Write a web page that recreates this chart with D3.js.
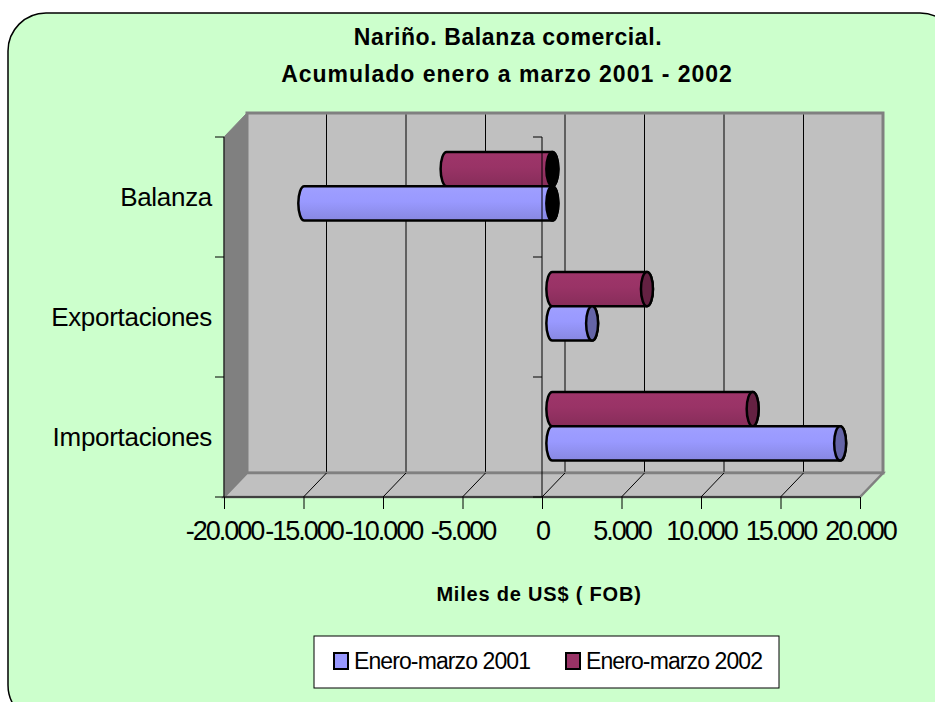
<!DOCTYPE html>
<html>
<head>
<meta charset="utf-8">
<script src="https://cdn.jsdelivr.net/npm/d3@7"></script>
<style>
  body { margin: 0; background: #ffffff; }
  svg { display: block; font-family: "Liberation Sans", Arial, sans-serif; }
</style>
</head>
<body>
<div id="chart"></div>
<script>
// data
var categories = ["Balanza", "Exportaciones", "Importaciones"];   // top to bottom
var seriesNames = ["Enero-marzo 2001", "Enero-marzo 2002"];
var values2001 = [-15600, 2500, 18100];
var values2002 = [-6650, 5950, 12600];
var xTicks = [-20000, -15000, -10000, -5000, 0, 5000, 10000, 15000, 20000];
var seriesColors = ["#9999ff", "#993366"];

var width = 935, height = 702;

var svg = d3.select("#chart")
  .append("svg")
    .attr("width", width)
    .attr("height", height);

// chart area frame
svg.append("rect")
  .attr("x", 8).attr("y", 13)
  .attr("width", 950).attr("height", 710)
  .attr("rx", 38).attr("ry", 38)
  .attr("fill", "#ccffcc")
  .attr("stroke", "#000")
  .attr("stroke-width", 1.5);

// title
var title = svg.append("text")
  .attr("text-anchor", "middle")
  .style("font-weight", "bold")
  .style("font-size", "23px");
title.append("tspan").attr("x", 508).attr("y", 45)
  .style("letter-spacing", "0.6px")
  .text("Nariño. Balanza comercial.");
title.append("tspan").attr("x", 507).attr("y", 82)
  .style("letter-spacing", "1px")
  .text("Acumulado enero a marzo 2001 - 2002");

// 3d plot geometry
var depth = {x: 23, y: -24};
var x = d3.scaleLinear().domain([-20000, 20000]).range([224, 860]);
var y = d3.scaleBand().domain(categories).range([137, 497]);
var ySub = d3.scaleBand().domain(["2002", "2001"]).range([0, y.bandwidth()])
  .paddingInner(0).paddingOuter(0.75);

var x0 = x.range()[0], x1 = x.range()[1];
var yTop = y.range()[0], yBot = y.range()[1];

// back wall
svg.append("rect")
  .attr("x", x0 + depth.x).attr("y", yTop + depth.y)
  .attr("width", x1 - x0).attr("height", yBot - yTop)
  .attr("fill", "#c0c0c0")
  .attr("stroke", "#808080")
  .attr("stroke-width", 3);

// gridlines on back wall
svg.append("g")
  .selectAll("line")
  .data(xTicks.slice(1, -1))
  .enter()
  .append("line")
    .attr("x1", function(d) { return x(d) + depth.x; })
    .attr("x2", function(d) { return x(d) + depth.x; })
    .attr("y1", yTop + depth.y + 1.5)
    .attr("y2", yBot + depth.y)
    .attr("stroke", "#000")
    .attr("stroke-width", 1);

// left wall
svg.append("path")
  .attr("d", "M" + x0 + "," + yTop + "L" + (x0 + depth.x) + "," + (yTop + depth.y) +
             "L" + (x0 + depth.x) + "," + (yBot + depth.y) + "L" + x0 + "," + yBot + "Z")
  .attr("fill", "#808080")
  .attr("stroke", "#808080");

// floor
svg.append("path")
  .attr("d", "M" + x0 + "," + yBot + "L" + x1 + "," + yBot +
             "L" + (x1 + depth.x) + "," + (yBot + depth.y) + "L" + (x0 + depth.x) + "," + (yBot + depth.y) + "Z")
  .attr("fill", "#c0c0c0")
  .attr("stroke", "#808080")
  .attr("stroke-width", 2.5);

svg.append("g")
  .selectAll("line")
  .data(xTicks.slice(1, -1))
  .enter()
  .append("line")
    .attr("x1", function(d) { return x(d); })
    .attr("x2", function(d) { return x(d) + depth.x; })
    .attr("y1", yBot)
    .attr("y2", yBot + depth.y)
    .attr("stroke", "#000")
    .attr("stroke-width", 1);

// gradients for the cylinders
var defs = svg.append("defs");
seriesColors.forEach(function(c, i) {
  var g = defs.append("linearGradient")
    .attr("id", "grad" + i)
    .attr("x1", 0).attr("y1", 0).attr("x2", 0).attr("y2", 1);
  g.append("stop").attr("offset", "0%").attr("stop-color", d3.color(c).brighter(0.1));
  g.append("stop").attr("offset", "45%").attr("stop-color", c);
  g.append("stop").attr("offset", "100%").attr("stop-color", d3.color(c).darker(0.35));
});

// bars (cylinders) at mid depth
var shift = {x: depth.x * 0.45, y: depth.y * 0.45};
var capRx = 6;
var bars = [];
categories.forEach(function(cat, i) {
  bars.push({cat: cat, key: "2002", s: 1, v: values2002[i]});
  bars.push({cat: cat, key: "2001", s: 0, v: values2001[i]});
});

function cylinder(d) {
  var h = ySub.bandwidth();
  var top = y(d.cat) + ySub(d.key) + shift.y;
  var a = Math.min(x(0), x(d.v)) + shift.x;
  var b = Math.max(x(0), x(d.v)) + shift.x;
  return "M" + b + "," + top +
    "L" + a + "," + top +
    "A" + capRx + "," + (h / 2) + " 0 0 0 " + a + "," + (top + h) +
    "L" + b + "," + (top + h) +
    "A" + capRx + "," + (h / 2) + " 0 0 0 " + b + "," + top + "Z";
}

var barG = svg.append("g")
  .selectAll("g")
  .data(bars)
  .enter()
  .append("g");

barG.append("path")
  .attr("d", cylinder)
  .attr("fill", function(d) { return "url(#grad" + d.s + ")"; })
  .attr("stroke", "#000")
  .attr("stroke-width", 2.5)
  .attr("stroke-linejoin", "round");

barG.append("ellipse")
  .attr("cx", function(d) { return Math.max(x(0), x(d.v)) + shift.x; })
  .attr("cy", function(d) { return y(d.cat) + ySub(d.key) + shift.y + ySub.bandwidth() / 2; })
  .attr("rx", capRx)
  .attr("ry", ySub.bandwidth() / 2)
  .attr("fill", function(d) { return d.v < 0 ? "#000" : d3.color(seriesColors[d.s]).darker(1.2); })
  .attr("stroke", "#000")
  .attr("stroke-width", 2.5);

// category axes (left edge and at zero)
[x0, x(0)].forEach(function(ax) {
  svg.append("line")
    .attr("x1", ax).attr("x2", ax)
    .attr("y1", yTop).attr("y2", yBot)
    .attr("stroke", "#000").attr("stroke-width", 1);
  svg.append("g")
    .selectAll("line")
    .data([yTop, yTop + y.step(), yTop + 2 * y.step(), yBot])
    .enter()
    .append("line")
      .attr("x1", ax - 9).attr("x2", ax)
      .attr("y1", function(d) { return d; })
      .attr("y2", function(d) { return d; })
      .attr("stroke", "#000").attr("stroke-width", 1);
});

// category labels
svg.append("g")
  .selectAll("text")
  .data(categories)
  .enter()
  .append("text")
    .attr("x", 212)
    .attr("y", function(d) { return y(d) + y.bandwidth() / 2; })
    .attr("dy", "0.35em")
    .attr("text-anchor", "end")
    .style("font-size", "26px")
    .style("letter-spacing", "-0.3px")
    .text(function(d) { return d; });

// value axis
var xAxis = d3.axisBottom(x)
  .tickValues(xTicks)
  .tickSize(12)
  .tickFormat(function(d) { return d3.format(",")(d).replace(/,/g, ".").replace("\u2212", "-"); });

var axG = svg.append("g")
  .attr("transform", "translate(0," + yBot + ")")
  .call(xAxis);
axG.select(".domain").attr("stroke", "#000").attr("d", "M" + x0 + ",0H" + x1);
axG.selectAll(".tick line").attr("stroke", "#000");
axG.selectAll(".tick text")
  .attr("y", 24)
  .attr("dy", "0.71em")
  .attr("fill", "#000")
  .style("font-family", "'Liberation Sans', Arial, sans-serif")
  .style("font-size", "27px")
  .style("letter-spacing", "-2px");

// axis title
svg.append("text")
  .attr("x", 539)
  .attr("y", 601)
  .attr("text-anchor", "middle")
  .style("font-weight", "bold")
  .style("font-size", "20px")
  .style("letter-spacing", "0.8px")
  .text("Miles de US$ ( FOB)");

// legend
var legend = svg.append("g");
legend.append("rect")
  .attr("x", 314).attr("y", 636)
  .attr("width", 465).attr("height", 52)
  .attr("fill", "#fff")
  .attr("stroke", "#000")
  .attr("stroke-width", 1);

var legX = [334, 566];
var item = legend.selectAll("g.item")
  .data(seriesNames)
  .enter()
  .append("g")
    .attr("class", "item")
    .attr("transform", function(d, i) { return "translate(" + legX[i] + ",653)"; });
item.append("rect")
  .attr("width", 14).attr("height", 16)
  .attr("fill", function(d, i) { return seriesColors[i]; })
  .attr("stroke", "#000")
  .attr("stroke-width", 2);
item.append("text")
  .attr("x", 20)
  .attr("y", 16)
  .style("font-size", "23px")
  .style("letter-spacing", "-0.9px")
  .text(function(d) { return d; });
</script>
</body>
</html>
